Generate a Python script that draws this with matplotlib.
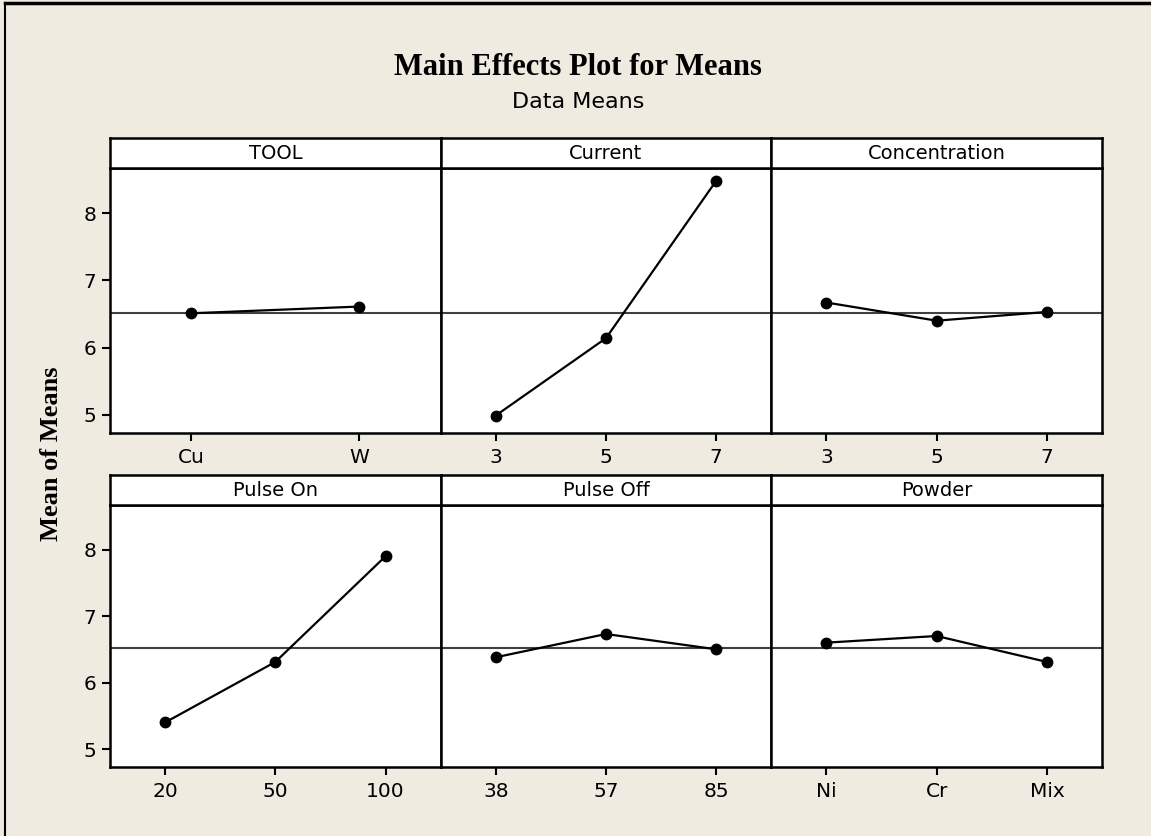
import matplotlib
matplotlib.use("Agg")
import matplotlib.pyplot as plt
from matplotlib.lines import Line2D

# factor levels and mean responses
factors = ["TOOL", "Current", "Concentration", "Pulse On", "Pulse Off", "Powder"]
levels = [
    ["Cu", "W"],
    ["3", "5", "7"],
    ["3", "5", "7"],
    ["20", "50", "100"],
    ["38", "57", "85"],
    ["Ni", "Cr", "Mix"],
]
means = [
    [6.51, 6.61],
    [4.99, 6.14, 8.48],
    [6.67, 6.40, 6.53],
    [5.40, 6.31, 7.90],
    [6.38, 6.73, 6.50],
    [6.60, 6.70, 6.31],
]
grand_mean = 6.52
y_ticks = [5, 6, 7, 8]

W, H = 1151, 836
bg = "#EFEBE1"
fig = plt.figure(figsize=(W / 100, H / 100), dpi=100, facecolor=bg)

def box(x0, y0, x1, y1):
    # pixel box (top-left origin) -> figure fraction rect
    return [x0 / W, 1 - y1 / H, (x1 - x0) / W, (y1 - y0) / H]

# outer frame
fig.add_artist(Line2D([5 / W, 5 / W], [0, 1 - 3 / H], color="black", lw=1.5))
fig.add_artist(Line2D([5 / W, 1], [1 - 3 / H, 1 - 3 / H], color="black", lw=2.5))

col_x = [110, 440.7, 771.3, 1102]
rows = [(138, 168, 433), (475, 505, 767)]
lw_frame = 1.8

for i, name in enumerate(factors):
    r, c = divmod(i, 3)
    top, strip_bot, bot = rows[r]
    x0, x1 = col_x[c], col_x[c + 1]

    ax = fig.add_axes(box(x0, strip_bot, x1, bot))
    ax.set_facecolor("white")
    n = len(levels[i])
    pos = list(range(1, n + 1))
    ax.axhline(grand_mean, color="#404040", lw=1.5, zorder=1)
    ax.plot(pos, means[i], color="black", lw=1.6, marker="o", ms=7.5, zorder=3)
    ax.set_xlim(0.5 if n == 3 else 0.515, n + 0.5 if n == 3 else 2.485)
    ax.set_ylim(4.73, 8.67)
    ax.set_xticks(pos)
    ax.set_xticklabels(levels[i])
    ax.set_yticks(y_ticks)
    for s in ax.spines.values():
        s.set_linewidth(lw_frame)
    ax.tick_params(axis="both", direction="out", length=6, width=1.5,
                   labelsize=14.5, colors="black", pad=5)
    if c == 0:
        ax.tick_params(axis="y", pad=4)
    else:
        ax.tick_params(axis="y", left=False, labelleft=False)

    sx = fig.add_axes(box(x0, top, x1, strip_bot))
    sx.set_facecolor("white")
    sx.set_xticks([])
    sx.set_yticks([])
    for s in sx.spines.values():
        s.set_linewidth(lw_frame)
    sx.text(0.5, 0.47, name, ha="center", va="center", fontsize=14,
            transform=sx.transAxes)

fig.text(578 / W, 1 - 75 / H, "Main Effects Plot for Means", ha="center",
         va="baseline", fontsize=22, fontweight="bold", family="Liberation Serif")
fig.text(578 / W, 1 - 108 / H, "Data Means", ha="center", va="baseline",
         fontsize=16)
fig.text(52 / W, 1 - 454 / H, "Mean of Means", ha="center", va="center",
         rotation=90, fontsize=19, fontweight="bold", family="Liberation Serif")

fig.savefig("out.png", dpi=100, facecolor=bg)
